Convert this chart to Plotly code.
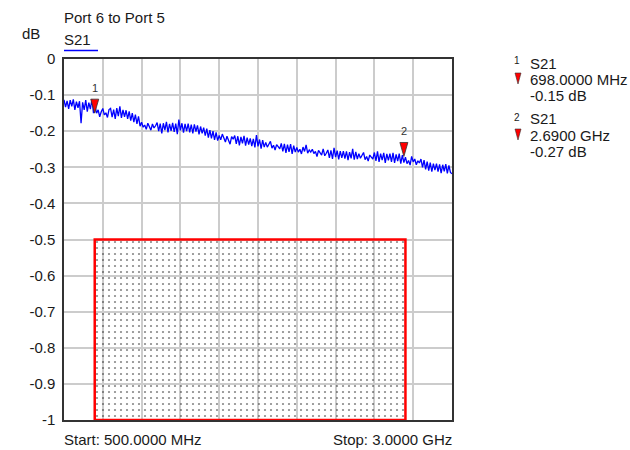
import plotly.graph_objects as go

# ---------------- data ----------------
freq_start_mhz = 500
freq_step_mhz = 10
s21_db = [
    -0.113, -0.133, -0.116, -0.138, -0.114, -0.131, -0.112, -0.141, -0.118, -0.135,
    -0.117, -0.178, -0.120, -0.141, -0.114, -0.146, -0.121, -0.139, -0.112, -0.150,
    -0.132, -0.150, -0.141, -0.160, -0.146, -0.137, -0.155, -0.149, -0.162, -0.140,
    -0.137, -0.161, -0.140, -0.166, -0.136, -0.158, -0.131, -0.163, -0.141, -0.160,
    -0.142, -0.166, -0.145, -0.171, -0.150, -0.175, -0.154, -0.180, -0.159, -0.186,
    -0.175, -0.189, -0.183, -0.195, -0.178, -0.186, -0.197, -0.180, -0.191, -0.185,
    -0.176, -0.200, -0.179, -0.206, -0.178, -0.197, -0.174, -0.203, -0.180, -0.199,
    -0.177, -0.202, -0.179, -0.208, -0.168, -0.198, -0.178, -0.204, -0.180, -0.200,
    -0.179, -0.203, -0.182, -0.206, -0.181, -0.201, -0.184, -0.209, -0.187, -0.206,
    -0.190, -0.212, -0.193, -0.218, -0.197, -0.220, -0.200, -0.224, -0.203, -0.226,
    -0.212, -0.224, -0.208, -0.219, -0.230, -0.214, -0.226, -0.236, -0.215, -0.222,
    -0.212, -0.235, -0.214, -0.239, -0.216, -0.234, -0.213, -0.240, -0.218, -0.237,
    -0.220, -0.241, -0.221, -0.245, -0.211, -0.242, -0.223, -0.248, -0.225, -0.244,
    -0.231, -0.244, -0.236, -0.228, -0.247, -0.239, -0.252, -0.237, -0.243, -0.249,
    -0.234, -0.256, -0.235, -0.260, -0.237, -0.257, -0.236, -0.263, -0.240, -0.258,
    -0.245, -0.258, -0.250, -0.263, -0.244, -0.256, -0.238, -0.261, -0.252, -0.258,
    -0.250, -0.262, -0.256, -0.270, -0.253, -0.259, -0.266, -0.249, -0.268, -0.261,
    -0.252, -0.274, -0.253, -0.277, -0.246, -0.272, -0.254, -0.278, -0.255, -0.274,
    -0.255, -0.276, -0.256, -0.280, -0.258, -0.275, -0.249, -0.279, -0.257, -0.277,
    -0.262, -0.275, -0.268, -0.259, -0.279, -0.270, -0.283, -0.266, -0.272, -0.277,
    -0.259, -0.282, -0.256, -0.285, -0.262, -0.280, -0.260, -0.288, -0.263, -0.281,
    -0.262, -0.285, -0.260, -0.288, -0.264, -0.283, -0.262, -0.290, -0.266, -0.287,
    -0.272, -0.290, -0.281, -0.294, -0.270, -0.285, -0.277, -0.293, -0.282, -0.288,
    -0.277, -0.300, -0.280, -0.306, -0.284, -0.309, -0.287, -0.312, -0.290, -0.308,
    -0.290, -0.312, -0.292, -0.316, -0.293, -0.311, -0.291, -0.317, -0.295, -0.314,
    -0.318,
]
freqs_mhz = [freq_start_mhz + i * freq_step_mhz for i in range(len(s21_db))]

marker_ids = ["1", "2"]
marker_freq_mhz = [698.0, 2690.0]
marker_val_db = [-0.15, -0.27]
marker_freq_text = ["698.0000 MHz", "2.6900 GHz"]
marker_val_text = ["-0.15 dB", "-0.27 dB"]

mask_freq_mhz = [698.0, 2700.0]
mask_db = [-1.0, -0.5]

y_ticks = [0, -0.1, -0.2, -0.3, -0.4, -0.5, -0.6, -0.7, -0.8, -0.9, -1]
y_ticktext = ["0", "-0.1", "-0.2", "-0.3", "-0.4", "-0.5", "-0.6", "-0.7", "-0.8", "-0.9", "-1"]
x_grid = [500, 750, 1000, 1250, 1500, 1750, 2000, 2250, 2500, 2750, 3000]

# ---------------- layout geometry ----------------
W, H = 630, 450
L, R, T, B = 64, 178, 59, 30
PW, PH = W - L - R, H - T - B
X0, X1 = 500, 3000
Y0, Y1 = -1.0, 0.0
FONT = "Liberation Sans, Arial, Helvetica, sans-serif"
TXT = "#1a1a1a"
FS = 15


def px(xp):
    return (xp - L) / PW


def py(yp):
    return (H - B - yp) / PH


mhz_per_px = (X1 - X0) / PW
db_per_px = (Y1 - Y0) / PH

fig = go.Figure()

# limit-mask box with dot pattern
mx = [mask_freq_mhz[0], mask_freq_mhz[0], mask_freq_mhz[1], mask_freq_mhz[1], mask_freq_mhz[0]]
my = [mask_db[0], mask_db[1], mask_db[1], mask_db[0], mask_db[0]]
fig.add_trace(go.Scatter(
    x=mx, y=my, mode="lines", fill="toself",
    line=dict(color="#ff0000", width=2.5),
    fillcolor="rgba(0,0,0,0)",
    fillpattern=dict(shape=".", fgcolor="#111111", bgcolor="rgba(0,0,0,0)",
                     size=6, solidity=0.11),
    hoverinfo="skip", showlegend=False,
))

# S21 trace
fig.add_trace(go.Scatter(
    x=freqs_mhz, y=s21_db, mode="lines",
    line=dict(color="#0000ff", width=1.3),
    showlegend=False,
))

# markers on trace (narrow red triangles, tip at marker value)
hw = 4 * mhz_per_px
hh = 14 * db_per_px
for mid, f, v in zip(marker_ids, marker_freq_mhz, marker_val_db):
    fig.add_trace(go.Scatter(
        x=[f - hw, f + hw, f, f - hw], y=[v + hh, v + hh, v, v + hh],
        mode="lines", fill="toself", fillcolor="#ff0000",
        line=dict(color="#333333", width=0.8),
        hoverinfo="skip", showlegend=False,
    ))
    fig.add_annotation(x=f, y=v + hh, xref="x", yref="y", text=mid,
                       showarrow=False, yanchor="bottom", yshift=3,
                       font=dict(family=FONT, size=11, color="#333333"))

# header texts
fig.add_annotation(x=px(64), y=py(17), xref="paper", yref="paper", text="Port 6 to Port 5",
                   showarrow=False, xanchor="left", yanchor="middle", xshift=-2,
                   font=dict(family=FONT, size=FS, color=TXT))
fig.add_annotation(x=px(40), y=py(33), xref="paper", yref="paper", text="dB",
                   showarrow=False, xanchor="right", yanchor="middle", xshift=2,
                   font=dict(family=FONT, size=FS, color=TXT))
fig.add_annotation(x=px(64), y=py(39), xref="paper", yref="paper", text="S21",
                   showarrow=False, xanchor="left", yanchor="middle", xshift=-2,
                   font=dict(family=FONT, size=FS, color=TXT))
fig.add_shape(type="line", xref="paper", yref="paper", x0=px(64), x1=px(98),
              y0=py(50.5), y1=py(50.5), line=dict(color="#0000ff", width=1.5))

# footer texts
fig.add_annotation(x=px(64), y=py(440), xref="paper", yref="paper", text="Start: 500.0000 MHz",
                   showarrow=False, xanchor="left", yanchor="middle", xshift=-2,
                   font=dict(family=FONT, size=FS, color=TXT))
fig.add_annotation(x=px(452), y=py(440), xref="paper", yref="paper", text="Stop: 3.0000 GHz",
                   showarrow=False, xanchor="right", yanchor="middle", xshift=2,
                   font=dict(family=FONT, size=FS, color=TXT))

# marker readout panel
block_top = [63, 119]
for i, mid in enumerate(marker_ids):
    yt = block_top[i]
    fig.add_annotation(x=px(522), y=py(yt - 2), xref="paper", yref="paper", text=mid,
                       showarrow=False, xanchor="right", yanchor="middle",
                       font=dict(family=FONT, size=10, color=TXT))
    fig.add_annotation(x=px(530), y=py(yt), xref="paper", yref="paper", text="S21",
                       showarrow=False, xanchor="left", yanchor="middle", xshift=-2,
                       font=dict(family=FONT, size=FS, color=TXT))
    fig.add_annotation(x=px(530), y=py(yt + 16), xref="paper", yref="paper",
                       text=marker_freq_text[i],
                       showarrow=False, xanchor="left", yanchor="middle", xshift=-2,
                       font=dict(family=FONT, size=FS, color=TXT))
    fig.add_annotation(x=px(530), y=py(yt + 32), xref="paper", yref="paper",
                       text=marker_val_text[i],
                       showarrow=False, xanchor="left", yanchor="middle", xshift=-2,
                       font=dict(family=FONT, size=FS, color=TXT))
    tx, ty0, ty1 = 518, yt + 10, yt + 21
    path = (f"M {px(tx - 3)},{py(ty0)} L {px(tx + 3)},{py(ty0)} "
            f"L {px(tx)},{py(ty1)} Z")
    fig.add_shape(type="path", xref="paper", yref="paper", path=path,
                  fillcolor="#ff0000", line=dict(color="#333333", width=0.6))

fig.update_layout(
    width=W, height=H,
    margin=dict(l=L, r=R, t=T, b=B),
    paper_bgcolor="white", plot_bgcolor="white",
    font=dict(family=FONT, size=FS, color=TXT),
    showlegend=False,
    xaxis=dict(range=[X0, X1], tickvals=x_grid, showticklabels=False,
               showgrid=True, gridcolor="#cccccc", gridwidth=1.5,
               zeroline=False, showline=True, linecolor="#333333", linewidth=1.5,
               mirror=True, ticks=""),
    yaxis=dict(range=[Y0, Y1], tickvals=y_ticks, ticktext=y_ticktext,
               showgrid=True, gridcolor="#cccccc", gridwidth=1.5,
               zeroline=False, showline=True, linecolor="#333333", linewidth=1.5,
               mirror=True, ticks="", ticklabelstandoff=4,
               tickfont=dict(family=FONT, size=FS, color=TXT)),
)

fig.write_html("out.html", config={"displayModeBar": False},
               post_script="document.body.style.margin='0px';")
